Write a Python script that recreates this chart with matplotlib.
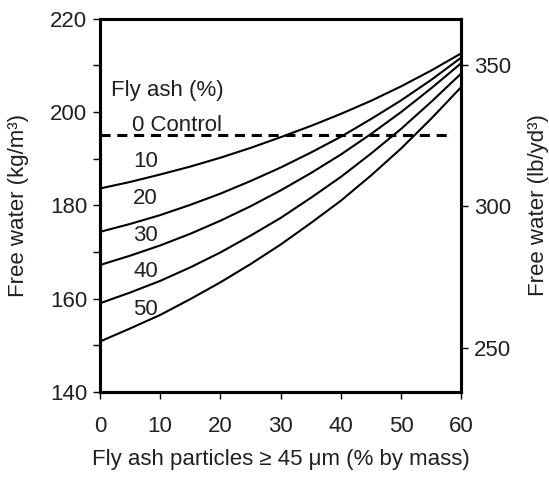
import matplotlib
matplotlib.use("Agg")
import matplotlib.pyplot as plt

# fly ash particles >= 45 um (% by mass)
x = [0, 5, 10, 15, 20, 25, 30, 35, 40, 45, 50, 55, 60]

# free water (kg/m3) for each fly ash content
fa10 = [183.6, 185.0, 186.6, 188.3, 190.2, 192.3, 194.6, 197.0, 199.6, 202.4, 205.5, 208.9, 212.6]
fa20 = [174.3, 176.0, 177.9, 180.1, 182.5, 185.2, 188.1, 191.3, 194.7, 198.5, 202.5, 206.9, 211.7]
fa30 = [167.2, 169.2, 171.4, 173.9, 176.7, 179.8, 183.2, 186.9, 190.9, 195.3, 200.0, 205.1, 210.5]
fa40 = [159.0, 161.3, 163.8, 166.7, 169.9, 173.5, 177.3, 181.6, 186.1, 191.1, 196.4, 202.2, 208.3]
fa50 = [150.8, 153.6, 156.5, 159.9, 163.5, 167.4, 171.6, 176.2, 181.0, 186.4, 192.2, 198.6, 205.4]
control = 195.0

series = [fa10, fa20, fa30, fa40, fa50]
series_labels = ["10", "20", "30", "40", "50"]
label_y = [189.3, 181.5, 173.6, 165.8, 157.6]

plt.rcParams['font.family'] = ['Liberation Sans', 'DejaVu Sans']
txt = '#231f20'

fig = plt.figure(figsize=(5.49, 4.78), dpi=100)
ax = fig.add_axes([0.182, 0.180, 0.6586, 0.781])

for ys in series:
    ax.plot(x, ys, color='black', lw=1.5)
ax.plot([0, 58.6], [control, control], color='black', lw=2.2, dashes=(3.3, 2.2))

ax.text(1.9, 204.6, "Fly ash (%)", fontsize=16, color=txt, va='center')
ax.text(5.3, 197.2, "0 Control", fontsize=16, color=txt, va='center')
for lab, yy in zip(series_labels, label_y):
    ax.text(5.5, yy, lab, fontsize=16, color=txt, va='center')

ax.set_xlim(0, 60)
ax.set_ylim(140, 220)
ax.set_xticks(range(0, 61, 10))
ax.set_yticks(range(140, 221, 10))
ax.set_yticklabels([str(v) if v % 20 == 0 else "" for v in range(140, 221, 10)])
ax.tick_params(direction='out', length=5, width=1, labelsize=16, labelcolor=txt, pad=4)
ax.tick_params(axis='x', pad=12)
for s in ax.spines.values():
    s.set_linewidth(2.2)
ax.set_xlabel("Fly ash particles ≥ 45 μm (% by mass)", fontsize=16, color=txt, labelpad=9)
ax.set_ylabel("Free water (kg/m³)", fontsize=16, color=txt, labelpad=15)

ax2 = ax.twinx()
ax2.set_ylim(234.5, 366.2)
ax2.set_yticks([250, 300, 350])
ax2.tick_params(direction='out', length=5, width=1, labelsize=16, labelcolor=txt, pad=4)
for s in ax2.spines.values():
    s.set_linewidth(2.2)
ax2.set_ylabel("Free water (lb/yd³)", fontsize=16, color=txt, labelpad=12)

fig.savefig("out.png", dpi=100)
